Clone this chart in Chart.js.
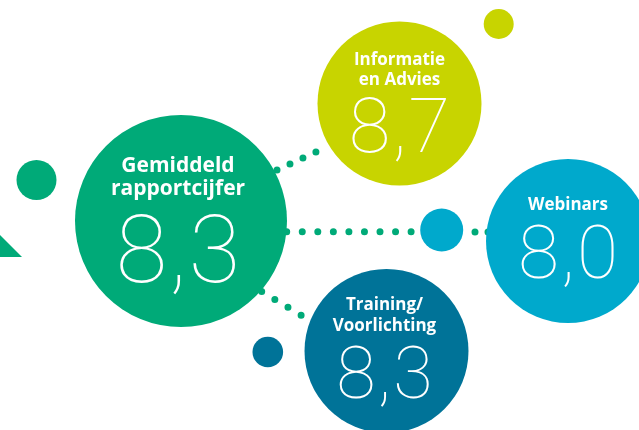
<!DOCTYPE html>
<html>
<head>
<meta charset="utf-8">
<script src="https://cdn.jsdelivr.net/npm/chart.js@4/dist/chart.umd.min.js"></script>
<style>
  html, body { margin: 0; padding: 0; background: #fff; }
  canvas { display: block; }
</style>
</head>
<body>
<canvas id="scoreChart" width="639" height="430"></canvas>
<script>
// data
const categories = ['Gemiddeld rapportcijfer', 'Informatie en Advies', 'Webinars', 'Training/Voorlichting'];
const titleLines = [['Gemiddeld', 'rapportcijfer'], ['Informatie', 'en Advies'], ['Webinars'], ['Training/', 'Voorlichting']];
const scores = [8.3, 8.7, 8.0, 8.3];

// colours
const green = '#00aa78';
const lime = '#c8d400';
const cyan = '#00a9cc';
const petrol = '#007398';

// layout of the infographic (canvas units, not data)
const bubbleLayout = [
  { x: 181, y: 221, r: 106, color: green,  titleSize: 21, titleY: [-49, -26], numSize: 94, numY: 61, dx: -3 },
  { x: 399.5, y: 103.5, r: 82, color: lime, titleSize: 17, titleY: [-38.5, -18.5], numSize: 76, numY: 48.5, dx: 0 },
  { x: 568, y: 241, r: 82, color: cyan,    titleSize: 17, titleY: [-31], numSize: 75, numY: 37, dx: 0 },
  { x: 386.5, y: 351, r: 82, color: petrol, titleSize: 17, titleY: [-41, -20], numSize: 72, numY: 47, dx: -2 }
];
const dotLayout = [
  { x: 498.7, y: 24, r: 15, color: lime },
  { x: 441.7, y: 230, r: 21.5, color: cyan },
  { x: 267.8, y: 352, r: 15.3, color: petrol },
  { x: 36.5, y: 180, r: 20, color: green }
];
const connectors = [
  { from: [277, 170], to: [316.2, 151.8], gap: 14.3 },
  { from: [286.7, 231.7], to: [411.2, 231.7], gap: 15.55 },
  { from: [475, 232], to: [488.2, 232], gap: 13 },
  { from: [261.7, 291.6], to: [301.2, 315.2], gap: 15.3 }
];

const bubblePoints = bubbleLayout.concat(dotLayout);

const datasets = [{
  type: 'bubble',
  data: bubblePoints.map(b => ({ x: b.x, y: b.y, r: b.r })),
  backgroundColor: bubblePoints.map(b => b.color),
  borderWidth: 0,
  hoverRadius: 0,
  clip: false,
  order: 1
}];

connectors.forEach(c => {
  datasets.push({
    type: 'line',
    data: [{ x: c.from[0], y: c.from[1] }, { x: c.to[0], y: c.to[1] }],
    borderColor: green,
    borderWidth: 7,
    borderDash: [0, c.gap],
    borderCapStyle: 'round',
    pointRadius: 0,
    fill: false,
    clip: false,
    order: 2
  });
});

// corner triangle
datasets.push({
  type: 'line',
  data: [{ x: -40, y: 195 }, { x: 22, y: 257 }],
  borderWidth: 0,
  backgroundColor: green,
  pointRadius: 0,
  fill: { value: 257 },
  clip: false,
  order: 3
});

const labelPlugin = {
  id: 'bubbleLabels',
  afterDatasetsDraw(chart) {
    const ctx = chart.ctx;
    const meta = chart.getDatasetMeta(0);
    ctx.save();
    ctx.fillStyle = '#ffffff';
    ctx.textAlign = 'center';
    ctx.textBaseline = 'alphabetic';
    categories.forEach((cat, i) => {
      const el = meta.data[i];
      const l = bubbleLayout[i];
      const cx = el.x + l.dx;
      ctx.letterSpacing = '0px';
      ctx.font = '700 ' + l.titleSize + 'px "Open Sans", sans-serif';
      titleLines[i].forEach((line, j) => {
        ctx.fillText(line, cx, el.y + l.titleY[j]);
      });
      ctx.letterSpacing = '2px';
      ctx.font = '100 ' + l.numSize + 'px Roboto, sans-serif';
      ctx.fillText(scores[i].toFixed(1).replace('.', ','), cx + 1, el.y + l.numY);
    });
    ctx.restore();
  }
};

new Chart(document.getElementById('scoreChart'), {
  type: 'bubble',
  data: { datasets: datasets },
  options: {
    responsive: false,
    animation: false,
    events: [],
    layout: { padding: 0, autoPadding: false },
    plugins: { legend: { display: false }, tooltip: { enabled: false } },
    scales: {
      x: { type: 'linear', min: 0, max: 639, display: false },
      y: { type: 'linear', min: 0, max: 430, reverse: true, display: false }
    }
  },
  plugins: [labelPlugin]
});
</script>
</body>
</html>
